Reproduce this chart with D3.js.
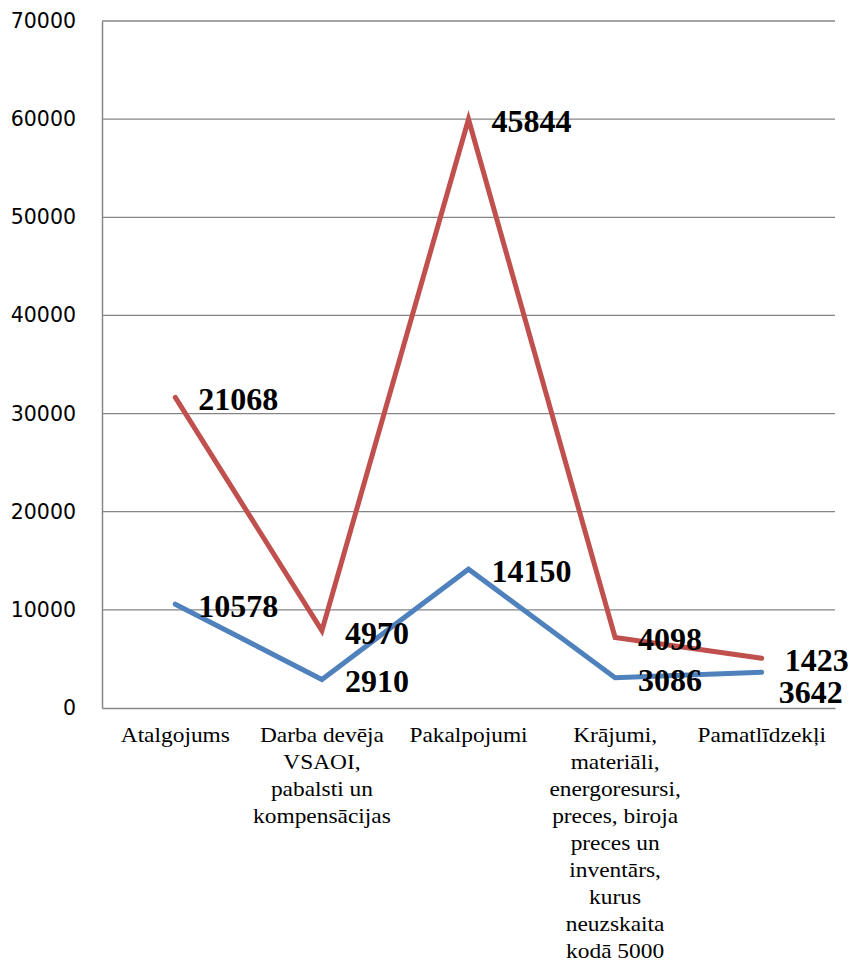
<!DOCTYPE html>
<html><head><meta charset="utf-8">
<script src="https://cdn.jsdelivr.net/npm/d3@7"></script>
<style>body{margin:0;background:#fff;}svg{display:block;}</style>
</head><body>
<svg id="c" width="850" height="969"></svg>
<script>
const categories = [
  ["Atalgojums"],
  ["Darba devēja", "VSAOI,", "pabalsti un", "kompensācijas"],
  ["Pakalpojumi"],
  ["Krājumi,", "materiāli,", "energoresursi,", "preces, biroja", "preces un", "inventārs,", "kurus", "neuzskaita", "kodā 5000"],
  ["Pamatlīdzekļi"]
];
const seriesBlue = [10578, 2910, 14150, 3086, 3642];
const seriesRed = [21068, 4970, 45844, 4098, 1423];
const yTicks = [0, 10000, 20000, 30000, 40000, 50000, 60000, 70000];

(function() {
const svg = d3.select("#c");
const mLeft = 102, mRight = 835, mTop = 21, mBottom = 708;
const keys = categories.map((d, i) => i);
const x = d3.scaleBand().domain(keys).range([mLeft, mRight]);
const y = d3.scaleLinear().domain([0, 70000]).range([mBottom, mTop]);

// grid
svg.append("g").selectAll("line").data(yTicks.filter(t => t > 0)).join("line")
  .attr("x1", mLeft).attr("x2", mRight)
  .attr("y1", d => y(d)).attr("y2", d => y(d))
  .attr("stroke", "#868686").attr("stroke-width", 1.3);

// y axis
const yAxis = svg.append("g").attr("transform", `translate(${mLeft},0)`)
  .call(d3.axisLeft(y).tickValues(yTicks).tickSize(0).tickPadding(26).tickFormat(d3.format("d")));
yAxis.select(".domain").attr("stroke", "#868686").attr("stroke-width", 1.5);
yAxis.selectAll("text").attr("font-family", "DejaVu Sans").attr("font-size", 20.5).attr("fill", "#000");

// x axis
const xAxis = svg.append("g").attr("transform", `translate(0,${mBottom})`)
  .call(d3.axisBottom(x).tickSize(0).tickFormat(""));
xAxis.select(".domain").attr("stroke", "#868686").attr("stroke-width", 1.5);
xAxis.selectAll(".tick").each(function(d) {
  const t = d3.select(this).append("text")
    .attr("transform", "translate(0,34) scale(1.17,1)")
    .attr("text-anchor", "middle")
    .attr("font-family", "Liberation Serif").attr("font-size", 20).attr("fill", "#000");
  categories[d].forEach((line, i) => {
    t.append("tspan").attr("x", 0).attr("y", i * 27).text(line);
  });
});

// stacked values
const stack = d3.stack().keys(["blue", "red"])(keys.map(i => ({blue: seriesBlue[i], red: seriesRed[i]})));
const cx = i => x(i) + x.bandwidth() / 2;
const line = d3.line().x((d, i) => cx(i)).y(d => y(d[1]));
const colors = {blue: "#4F81BD", red: "#C0504D"};

stack.forEach(s => {
  svg.append("path").datum(s).attr("d", line)
    .attr("fill", "none").attr("stroke", colors[s.key]).attr("stroke-width", 5)
    .attr("stroke-linejoin", "miter").attr("stroke-linecap", "round");
});

// data labels
const raw = {blue: seriesBlue, red: seriesRed};
stack.forEach(s => {
  svg.append("g").selectAll("text").data(s).join("text")
    .attr("x", (d, i) => cx(i) + 23 + (s.key === "blue" && i === 4 ? -6 : 0))
    .attr("y", (d, i) => y(d[1]) + 2 + (s.key === "blue" && i === 4 ? 18 : 0))
    .attr("dominant-baseline", "central")
    .attr("font-family", "Liberation Serif").attr("font-weight", "bold")
    .attr("font-size", 32).attr("fill", "#000")
    .text((d, i) => raw[s.key][i]);
});
})();
</script>
</body></html>
